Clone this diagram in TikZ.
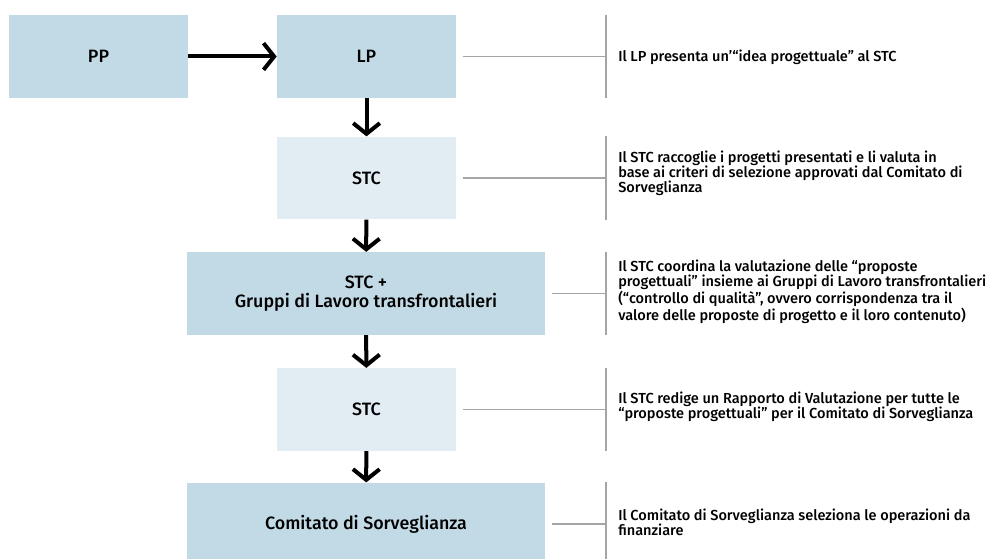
\documentclass[tikz,border=0pt]{standalone}
\usepackage{fontspec}
\setmainfont{Fira Sans Medium}
\usetikzlibrary{arrows.meta,positioning}
\definecolor{boxdark}{RGB}{194,218,230}
\definecolor{boxlight}{RGB}{226,237,243}
\definecolor{rulegray}{RGB}{165,165,165}

\begin{document}
\begin{tikzpicture}[x=0.75pt,y=-0.75pt,
  stage/.style={fill=boxdark, minimum width=134.25pt, minimum height=62pt, inner sep=0pt, align=center, font=\fontsize{13.4}{14.25}\selectfont},
  wide/.style={minimum width=268.5pt},
  pale/.style={fill=boxlight},
  note/.style={anchor=west, inner xsep=9pt, inner ysep=0pt, align=left, font=\fontsize{10.9}{11.25}\selectfont},
  flow/.style={line width=3pt, -{Straight Barb[length=8pt,width=20pt]}},
  link/.style={draw=rulegray, line width=0.8pt},
  bar/.style={draw=rulegray, line width=1.1pt}]
\useasboundingbox (0,0) rectangle (996,559);
% stages
\node[stage] (pp) at (98.5,56.5) {PP};
\node[stage] (lp) at (366.5,56.5) {LP};
\node[stage, pale] (stca) at (366.5,178) {STC};
\node[stage, wide] (stcg) at (366,293.5) {STC +\\Gruppi di Lavoro transfrontalieri};
\node[stage, pale] (stcb) at (366.5,409.5) {STC};
\node[stage, wide] (cds) at (366,524) {Comitato di Sorveglianza};
% arrows
\draw[flow] (pp) -- (lp);
\draw[flow] (lp) -- (stca);
\draw[flow] (stca) -- (stcg);
\draw[flow] (stcg) -- (stcb);
\draw[flow] (stcb) -- (cds);
% notes
\node[note] (nlp) at (606,57) {Il LP presenta un'“idea progettuale" al STC};
\node[note] (nstca) at (606,173) {Il STC raccoglie i progetti presentati e li valuta in\\base ai criteri di selezione approvati dal Comitato di\\Sorveglianza};
\node[note] (nstcg) at (606,292) {Il STC coordina la valutazione delle “proposte\\progettuali" insieme ai Gruppi di Lavoro transfrontalieri\\(“controllo di qualità”, ovvero corrispondenza tra il\\valore delle proposte di progetto e il loro contenuto)};
\node[note] (nstcb) at (606,407) {Il STC redige un Rapporto di Valutazione per tutte le\\“proposte progettuali" per il Comitato di Sorveglianza};
\node[note] (ncds) at (606,522) {Il Comitato di Sorveglianza seleziona le operazioni da\\finanziare};
% rules
\foreach \n/\s in {nlp/lp,nstca/stca,nstcg/stcg,nstcb/stcb,ncds/cds} {
  \draw[bar] (\n.west |- \s.north) -- (\n.west |- \s.south);
  \draw[link] ([xshift=5pt]\s.east) -- (\s.east -| \n.west);
}
\end{tikzpicture}
\end{document}
